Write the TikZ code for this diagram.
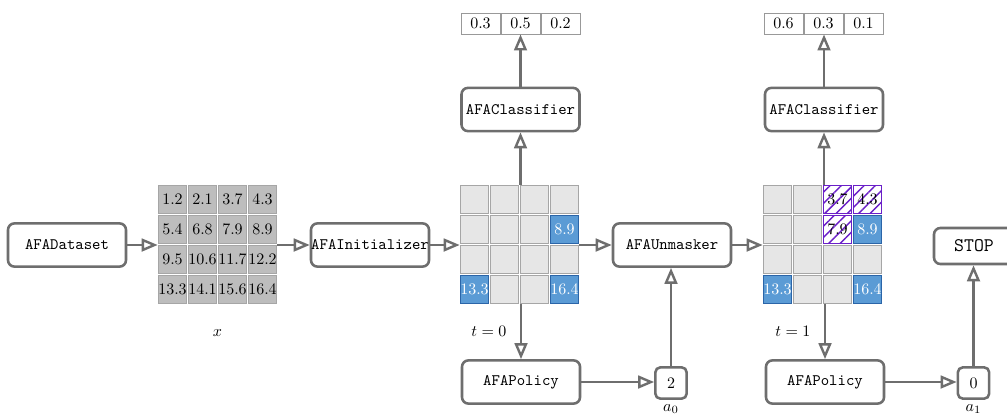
\documentclass[tikz,border=0pt]{standalone}
\usetikzlibrary{arrows.meta,patterns.meta}
\definecolor{linegray}{HTML}{6E6E6E}
\definecolor{cellgray}{HTML}{BDBDBD}
\definecolor{cellborder}{HTML}{A6A6A6}
\definecolor{emptyfill}{HTML}{E6E6E6}
\definecolor{bluefill}{HTML}{5B9BD5}
\definecolor{blueborder}{HTML}{2B65A8}
\definecolor{hatchpurple}{HTML}{6A1FC8}
\definecolor{probborder}{HTML}{999999}
\begin{document}
\begin{tikzpicture}[x=0.625pt,y=-0.625pt,
  box/.style={draw=linegray,line width=1.6pt,rounded corners=4pt,fill=white,
    minimum width=73.75pt,minimum height=27pt,inner sep=0pt,font=\ttfamily},
  stopbox/.style={box,minimum width=50pt,minimum height=22.5pt,font=\ttfamily\large},
  actbox/.style={box,minimum width=19.5pt,minimum height=19.5pt,font=\normalsize,rounded corners=3pt},
  cell/.style={minimum size=17.5pt,inner sep=0pt,line width=0.9pt},
  datacell/.style={cell,draw=cellborder,fill=cellgray},
  emptycell/.style={cell,draw=cellborder,fill=emptyfill},
  bluecell/.style={cell,draw=blueborder,fill=bluefill,text=white},
  hatchcell/.style={cell,draw=hatchpurple,pattern={Lines[angle=45,distance=5pt,line width=0.9pt]},pattern color=hatchpurple},
  gridframe/.style={minimum size=74.4pt,inner sep=0pt},
  probcell/.style={draw=probborder,line width=0.6pt,minimum width=24.4pt,minimum height=13.1pt,inner sep=0pt},
  arr/.style={draw=linegray,line width=1.5pt,-{Triangle[open,length=10pt,width=8pt]}}
]
\fill[white] (0,0) rectangle (1007,416);
\useasboundingbox (0,0) rectangle (1007,416);

% boxes
\node[box] (ds) at (67,245) {AFADataset};
\node[box] (init) at (370,245) {AFAInitializer};
\node[box] (unm) at (672,245) {AFAUnmasker};
\node[box] (cls1) at (520.5,109.5) {AFAClassifier};
\node[box] (cls2) at (824,109.5) {AFAClassifier};
\node[box] (pol1) at (521,382) {AFAPolicy};
\node[box] (pol2) at (825,382) {AFAPolicy};
\node[actbox] (a0) at (671,383) {2};
\node[actbox] (a1) at (973.5,383) {0};
\node[stopbox] (stop) at (974,246) {STOP};
\node (a0l) at (671,409) {$a_0$};
\node (a1l) at (973.5,409) {$a_1$};

% grid 1 (data)
\node[gridframe] (g1) at (217.5,244.5) {};
\foreach \v [count=\i from 0] in {1.2,2.1,3.7,4.3,5.4,6.8,7.9,8.9,9.5,10.6,11.7,12.2,13.3,14.1,15.6,16.4}{
  \pgfmathtruncatemacro\r{int(\i/4)}
  \pgfmathtruncatemacro\c{mod(\i,4)}
  \node[datacell] (g1-\r-\c) at (172.5+30*\c,199.5+30*\r) {\v};
}
\node (xl) at (217.5,333) {$x$};

% grid 2
\node[gridframe] (g2) at (519.5,244.5) {};
\foreach \r in {0,...,3}{\foreach \c in {0,...,3}{
  \node[emptycell] (g2-\r-\c) at (474.5+30*\c,199.5+30*\r) {};
}}
\node[bluecell] at (g2-1-3) {8.9};
\node[bluecell] at (g2-3-0) {13.3};
\node[bluecell] at (g2-3-3) {16.4};

% grid 3
\node[gridframe] (g3) at (822.5,244.5) {};
\foreach \r in {0,...,3}{\foreach \c in {0,...,3}{
  \node[emptycell] (g3-\r-\c) at (777.5+30*\c,199.5+30*\r) {};
}}
\node[cell,fill=white] at (g3-0-2) {};
\node[cell,fill=white] at (g3-0-3) {};
\node[cell,fill=white] at (g3-1-2) {};
\node[hatchcell] at (g3-0-2) {3.7};
\node[hatchcell] at (g3-0-3) {4.3};
\node[hatchcell] at (g3-1-2) {7.9};
\node[bluecell] at (g3-1-3) {8.9};
\node[bluecell] at (g3-3-0) {13.3};
\node[bluecell] at (g3-3-3) {16.4};

% probabilities
\node[probcell] (p1b) at (520.5,23.5) {0.5};
\node[probcell,anchor=east] (p1a) at (p1b.west) {0.3};
\node[probcell,anchor=west] (p1c) at (p1b.east) {0.2};
\node[probcell] (p2b) at (823.5,23.5) {0.3};
\node[probcell,anchor=east] (p2a) at (p2b.west) {0.6};
\node[probcell,anchor=west] (p2c) at (p2b.east) {0.1};

% connectors
\draw[arr] (ds.east) -- (ds.east -| g1.west);
\draw[arr] (g1.east |- init.west) -- (init.west);
\draw[arr] (init.east) -- (init.east -| g2.west);
\draw[arr] (g2.east |- unm.west) -- (unm.west);
\draw[arr] (unm.east) -- (unm.east -| g3.west);

\draw[arr] (cls1.south |- g2.north) -- (cls1.south);
\draw[arr] (cls1.north) -- (cls1.north |- p1b.south);
\draw[arr] (pol1.north |- g2.south) -- node[midway,left=5pt] {$t=0$} (pol1.north);
\draw[arr] (pol1.east) -- (pol1.east -| a0.west);
\draw[arr] (a0.north) -- (a0.north |- unm.south);

\draw[arr] (cls2.south |- g3.north) -- (cls2.south);
\draw[arr] (cls2.north) -- (cls2.north |- p2b.south);
\draw[arr] (pol2.north |- g3.south) -- node[midway,left=5pt] {$t=1$} (pol2.north);
\draw[arr] (pol2.east) -- (pol2.east -| a1.west);
\draw[arr] (a1.north) -- (a1.north |- stop.south);
\end{tikzpicture}
\end{document}
